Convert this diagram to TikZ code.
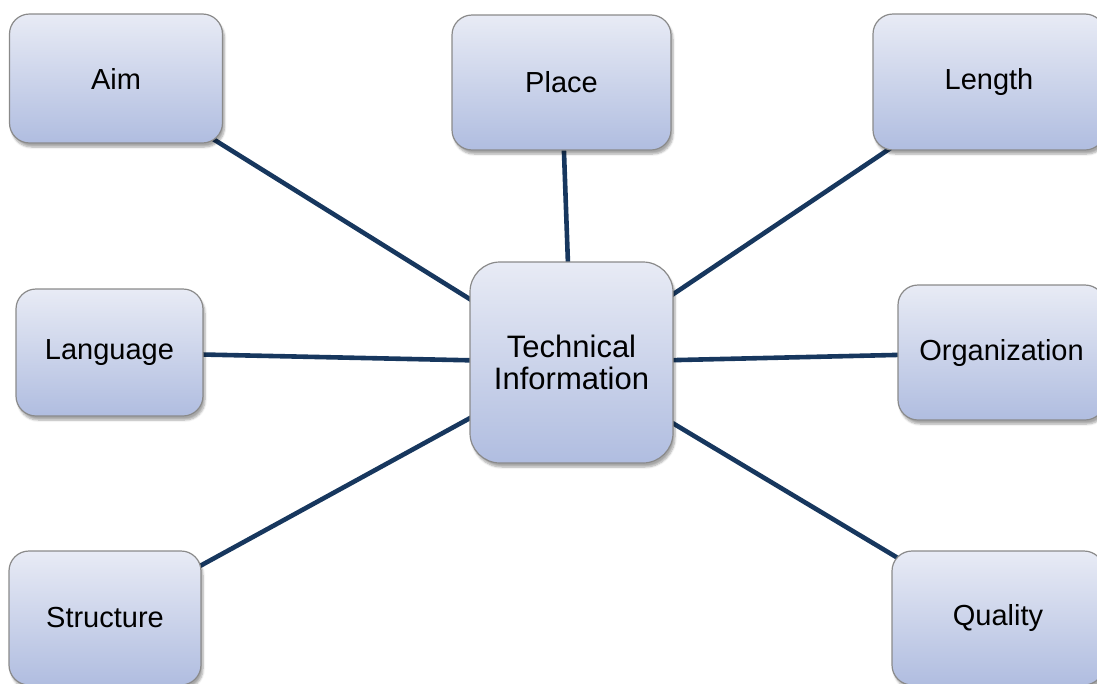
\documentclass[tikz,border=0pt]{standalone}
\usepackage{fontspec}
\setmainfont{Liberation Sans}
\usetikzlibrary{shadows.blur,backgrounds}
\definecolor{linec}{HTML}{17375E}
\definecolor{topc}{HTML}{E8EBF5}
\definecolor{botc}{HTML}{B0BDE0}
\definecolor{bordc}{HTML}{8A8A8A}
\tikzset{
  box/.style={draw=bordc, line width=1.2pt, rounded corners=20pt,
    top color=topc, bottom color=botc, inner sep=0pt, align=center,
    font=\fontsize{29}{32}\selectfont,
    blur shadow={shadow blur steps=6, shadow xshift=2pt, shadow yshift=-4pt, shadow opacity=35}},
  link/.style={draw=linec, line width=4.6pt},
}
\begin{document}
\begin{tikzpicture}[x=1pt,y=-1pt]
\useasboundingbox (0,0) rectangle (1097,683);
\node[box, minimum width=213pt, minimum height=129pt] (aim) at (116,78.5) {Aim};
\node[box, minimum width=219pt, minimum height=135pt] (place) at (561.5,82.5) {Place};
\node[box, minimum width=232pt, minimum height=136pt] (length) at (989,82) {Length};
\node[box, minimum width=187pt, minimum height=127pt] (lang) at (109.5,352.5) {Language};
\node[box, minimum width=203pt, minimum height=201pt, rounded corners=30pt, font=\fontsize{31}{32}\selectfont] (tech) at (571.5,362.5) {Technical\\Information};
\node[box, minimum width=207pt, minimum height=135pt] (org) at (1001.5,352.5) {Organization};
\node[box, minimum width=192pt, minimum height=134pt] (struct) at (105,618) {Structure};
\node[box, minimum width=212pt, minimum height=134pt] (qual) at (998,618) {Quality};
\begin{scope}[on background layer]
\draw[link] (tech.center) -- (aim.center);
\draw[link] (tech.center) -- (place.center);
\draw[link] (tech.center) -- (length.center);
\draw[link] (tech.center) -- (lang.center);
\draw[link] (tech.center) -- (org.center);
\draw[link] (tech.center) -- (struct.center);
\draw[link] (tech.center) -- (qual.center);
\end{scope}
\end{tikzpicture}
\end{document}
